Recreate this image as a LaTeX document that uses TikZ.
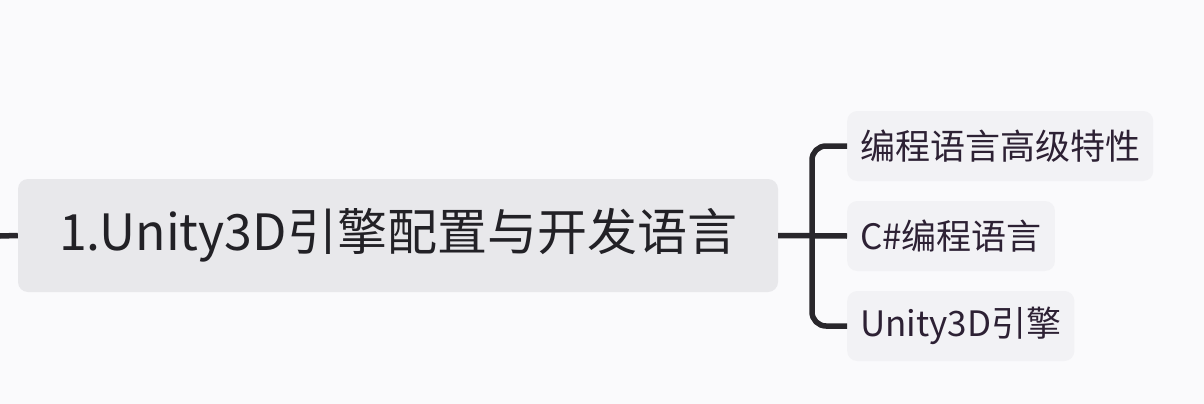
\documentclass[tikz,border=0pt]{standalone}
\usepackage{fontspec}
\setmainfont{Noto Sans CJK SC}
\definecolor{bgc}{HTML}{FAFAFC}
\definecolor{mainfill}{HTML}{E8E8EB}
\definecolor{subfill}{HTML}{F2F2F5}
\definecolor{linec}{HTML}{29272C}
\definecolor{maintext}{HTML}{222126}
\definecolor{subtext}{HTML}{2D2134}
\tikzset{
  mainbox/.style={fill=mainfill, rounded corners=10pt, minimum width=760pt, minimum height=113pt, inner sep=0pt, text=maintext, font=\fontsize{50}{58}\selectfont},
  subbox/.style={fill=subfill, rounded corners=10pt, anchor=west, inner xsep=13pt, inner ysep=0pt, minimum height=70pt, text=subtext, font=\fontsize{35}{41}\selectfont},
  conn/.style={draw=linec, line width=5.5pt},
}
\begin{document}
\begin{tikzpicture}[x=1pt,y=-1pt]
\fill[bgc] (0,0) rectangle (1204,404);
\useasboundingbox (0,0) rectangle (1204,404);
\node[mainbox] (main) at (398,235.5) {1.Unity3D引擎配置与开发语言};
\node[subbox] (c1) at (847,146) {编程语言高级特性};
\node[subbox] (c2) at (847,236) {C\#编程语言};
\node[subbox] (c3) at (847,326) {Unity3D引擎};
\coordinate (l) at (0,236);
\coordinate (j) at (812,236);
\draw[conn] (l) -- (main.west);
\draw[conn] (main.east) -- (c2.west);
\draw[conn, rounded corners=14pt] (c1.west) -| (j) |- (c3.west);
\end{tikzpicture}
\end{document}
